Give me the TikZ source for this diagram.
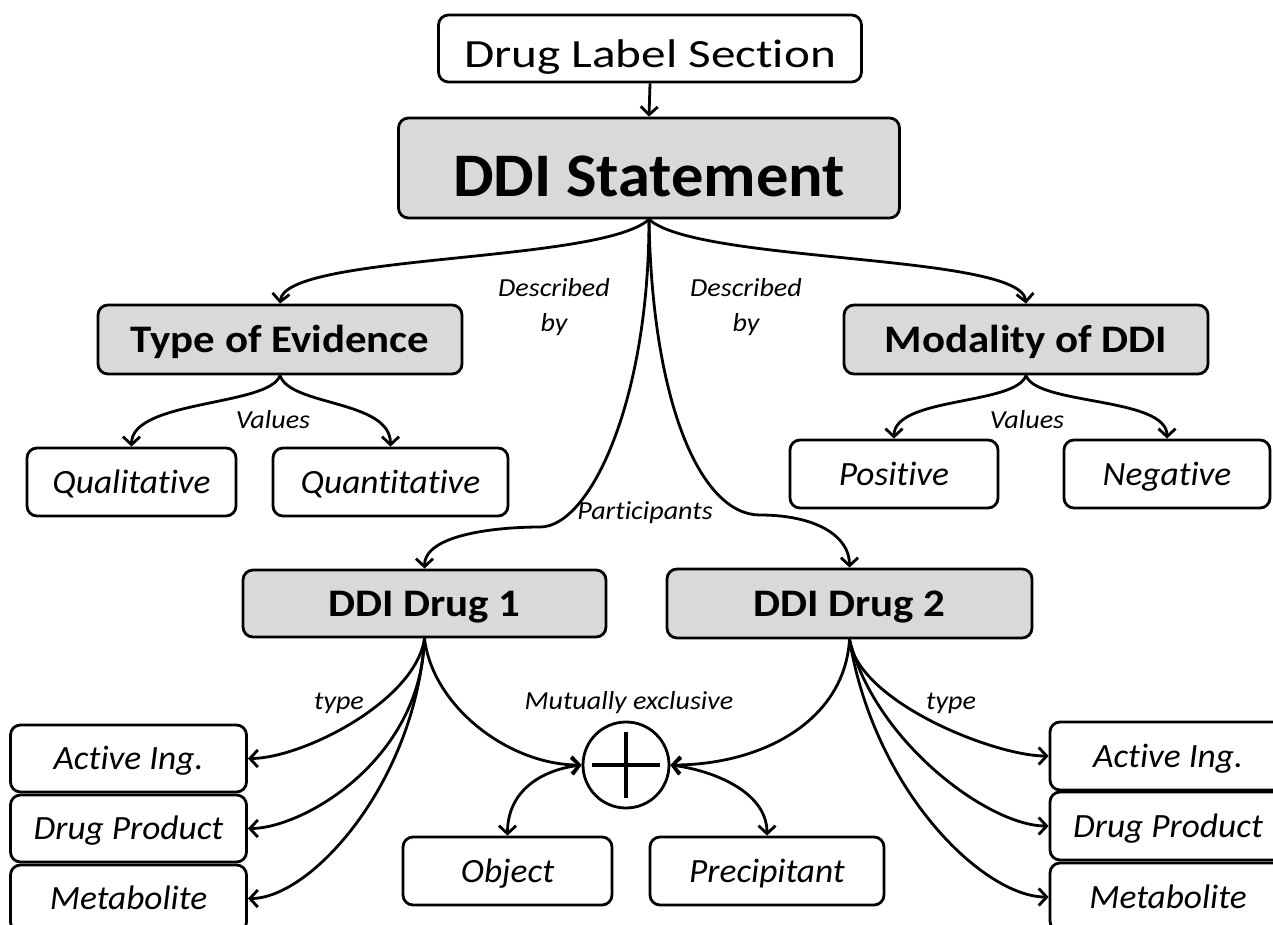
\documentclass[tikz,border=0pt]{standalone}
\usepackage{fontspec}
\setmainfont{Carlito}[Ligatures=NoCommon]
\newfontfamily\dlsfont{Carlito}[FakeStretch=1.23, Ligatures=NoCommon]
\newfontfamily\stmtfont{Carlito}[FakeStretch=1.04, Ligatures=NoCommon]
\newfontfamily\boldfont{Carlito}[FakeStretch=1.1, Ligatures=NoCommon]
\newfontfamily\itfont{Carlito}[FakeStretch=1.04, Ligatures=NoCommon]
\newfontfamily\lblfont{Carlito}[FakeStretch=1.08, Ligatures=NoCommon]
\usetikzlibrary{arrows.meta}
\definecolor{boxgray}{HTML}{D9D9D9}
\begin{document}
\begin{tikzpicture}[x=1pt,y=1pt,
  box/.style={draw, line width=2.8pt, rounded corners=10pt, inner sep=0pt, align=center},
  gbox/.style={box, fill=boxgray, font=\boldfont\bfseries\fontsize{39}{44}\selectfont, text height=33pt, text depth=8pt},
  wbox/.style={box, fill=white, font=\itfont\itshape\fontsize{34}{40}\selectfont, text height=30pt, text depth=8pt},
  lbl/.style={font=\lblfont\itshape\fontsize{26}{35}\selectfont, inner sep=0pt, align=center},
  arr/.style={line width=2.8pt, -{Straight Barb[length=8pt,width=17pt]}},
  darr/.style={line width=2.8pt, {Straight Barb[length=8pt,width=17pt]}-{Straight Barb[length=8pt,width=17pt]}}]
\useasboundingbox (0,0) rectangle (1273,-925);
% nodes
\node[box, fill=white, font=\dlsfont\fontsize{40}{46}\selectfont, text height=46pt, text depth=8pt, minimum width=423, minimum height=67] (dls) at (650,-48.5) {Drug Label Section};
\node[box, fill=boxgray, font=\stmtfont\bfseries\fontsize{62}{70}\selectfont, text height=70pt, text depth=12pt, minimum width=501, minimum height=100] (stmt) at (649,-168) {DDI Statement};
\node[gbox, minimum width=364, minimum height=69] (toe) at (280,-339.5) {Type of Evidence};
\node[gbox, minimum width=364, minimum height=69] (mod) at (1026,-339.5) {Modality of DDI};
\node[wbox, minimum width=209, minimum height=68] (qual) at (131.5,-482) {Qualitative};
\node[wbox, minimum width=235, minimum height=68] (quant) at (390.5,-482) {Quantitative};
\node[wbox, minimum width=208, minimum height=68] (pos) at (894,-474) {Positive};
\node[wbox, minimum width=206, minimum height=68] (neg) at (1167,-474) {Negative};
\node[gbox, minimum width=363, minimum height=67] (d1) at (424.5,-603.5) {DDI Drug 1};
\node[gbox, minimum width=365, minimum height=69] (d2) at (849.5,-603.5) {DDI Drug 2};
\node[draw, circle, line width=2.8pt, fill=white, minimum size=86, inner sep=0pt] (c) at (626,-765) {};
\node[wbox, minimum width=236, minimum height=67] (lai) at (128.5,-758.5) {Active Ing.};
\node[wbox, minimum width=236, minimum height=67] (ldp) at (128.5,-828.5) {Drug Product};
\node[wbox, minimum width=236, minimum height=67] (lmet) at (128.5,-898.5) {Metabolite};
\node[wbox, minimum width=209, minimum height=68] (obj) at (507.5,-871) {Object};
\node[wbox, minimum width=234, minimum height=68] (prec) at (767,-871) {Precipitant};
\node[wbox, minimum width=236, minimum height=68] (rai) at (1168,-756) {Active Ing.};
\node[wbox, minimum width=236, minimum height=68] (rdp) at (1168,-826) {Drug Product};
\node[wbox, minimum width=236, minimum height=68] (rmet) at (1168,-897) {Metabolite};
% plus sign
\draw[line width=4.5pt] ([xshift=-34pt]c.center) -- ([xshift=34pt]c.center);
\draw[line width=4.5pt] ([yshift=-33pt]c.center) -- ([yshift=33pt]c.center);
% labels
\node[lbl] (dbl) at (554,-307) {Described\\by};
\node[lbl] (dbr) at (746,-307) {Described\\by};
\node[lbl] (vl) at (273,-420) {Values};
\node[lbl] (vr) at (1027,-420) {Values};
\node[lbl] (part) at (645,-513) {Participants};
\node[lbl] (tl) at (339,-703) {type};
\node[lbl] (tr) at (951,-703) {type};
\node[lbl] (mx) at (629,-703) {Mutually exclusive};
% coordinates for middle connectors
\coordinate (pl) at (540,-527);
\coordinate (pr) at (760,-515);
% connectors
\draw[arr] (dls.south) -- (stmt.north);
\draw[arr] (stmt.south) .. controls +(-49,-44) and +(5,50) .. (toe.north);
\draw[arr] (stmt.south) .. controls +(49,-44) and +(-5,50) .. (mod.north);
\draw[arr] (stmt.south) .. controls +(0,-182) and +(50,0) .. (pl) .. controls +(-40,0) and +(0,35) .. (d1.north);
\draw[arr] (stmt.south) .. controls +(3,-182) and +(-60,0) .. (pr) .. controls +(55,0) and +(0,32) .. (d2.north);
\draw[arr] (toe.south) .. controls +(-10,-31) and +(0,47) .. (qual.north);
\draw[arr] (toe.south) .. controls +(10,-31) and +(0,47) .. (quant.north);
\draw[arr] (mod.south) .. controls +(-10,-30) and +(0,42) .. (pos.north);
\draw[arr] (mod.south) .. controls +(10,-30) and +(0,42) .. (neg.north);
\draw[arr] (d1.south) .. controls +(-9,-63) and +(54,0) .. (lai.east);
\draw[arr] (d1.south) .. controls +(-4,-123) and +(54,0) .. (ldp.east);
\draw[arr] (d1.south) .. controls +(-9,-143) and +(64,0) .. (lmet.east);
\draw[arr] (d1.south) .. controls +(8,-68) and +(-73,0) .. (c.west);
\draw[arr] (d2.south) .. controls +(-5,-82) and +(91,0) .. (c.east);
\draw[arr] (d2.south) .. controls +(8,-62) and +(-55,0) .. (rai.west);
\draw[arr] (d2.south) .. controls +(25,-102) and +(-60,0) .. (rdp.west);
\draw[arr] (d2.south) .. controls +(25,-152) and +(-65,0) .. (rmet.west);
\draw[darr] (c.west) .. controls +(-40,-5) and +(0,45) .. (obj.north);
\draw[darr] (c.east) .. controls +(40,-5) and +(0,45) .. (prec.north);
\end{tikzpicture}
\end{document}
